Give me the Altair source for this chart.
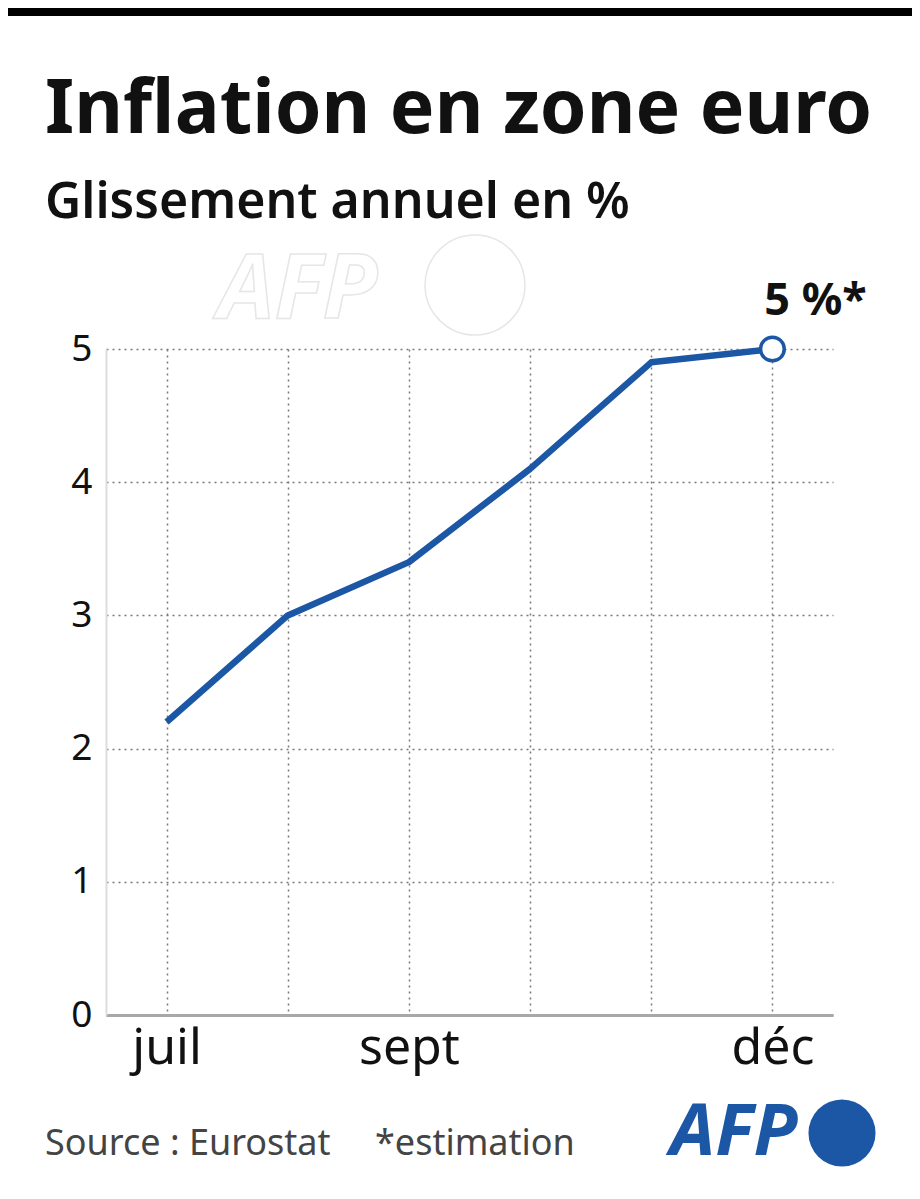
import altair as alt
import pandas as pd

months = ["juil", "août", "sept", "oct", "nov", "déc"]
values = [2.2, 3.0, 3.4, 4.1, 4.9, 5.0]
shown_labels = ["juil", "sept", "déc"]
y_ticks = [0, 1, 2, 3, 4, 5]
end_label = "5 %*"
title_text = "Inflation en zone euro"
subtitle_text = "Glissement annuel en %"
source_text = "Source : Eurostat"
note_text = "*estimation"
logo_text = "AFP"

W, H = 727, 666
BLUE = "#1c57a6"
FONT = "Noto Sans"

df = pd.DataFrame({"mois": months, "val": values})
last = df.iloc[[-1]].assign(lab=end_label)

label_list = ",".join("'%s'" % s for s in shown_labels)

x_enc = alt.X(
    "mois:N", sort=months,
    scale=alt.Scale(type="point", padding=0.5),
    axis=alt.Axis(
        title=None, ticks=False, labelAngle=0,
        labelExpr="indexof([%s], datum.label) >= 0 ? datum.label : ''" % label_list,
        domainColor="#a8a8a8", domainWidth=3,
        grid=True, gridDash=[2, 4], gridColor="#7a7a7a", gridWidth=1.5,
        labelFont=FONT, labelFontSize=50, labelColor="#111",
        labelPadding=8,
    ),
)
y_enc = alt.Y(
    "val:Q",
    scale=alt.Scale(domain=[0, 5], nice=False),
    axis=alt.Axis(
        title=None, ticks=False, values=y_ticks, format="d",
        domainColor="#dddddd", domainWidth=2,
        grid=True, gridDash=[2, 4], gridColor="#7a7a7a", gridWidth=1.5,
        labelFont=FONT, labelFontSize=37, labelColor="#111",
        labelPadding=14,
    ),
)

base = alt.Chart(df)
line = base.mark_line(color=BLUE, strokeWidth=6.5, strokeJoin="round").encode(x=x_enc, y=y_enc)

end_pt = alt.Chart(last).mark_point(
    shape="circle", size=560, filled=True, fill="white", stroke=BLUE, strokeWidth=3.5, opacity=1
).encode(x=alt.X("mois:N", sort=months), y="val:Q")

end_txt = alt.Chart(last).mark_text(
    font=FONT, fontSize=45, fontWeight="bold", color="#111",
    align="center", baseline="alphabetic", dx=43, dy=-34
).encode(x=alt.X("mois:N", sort=months), y="val:Q", text="lab:N")


def txt(t, x, y, size, weight="normal", color="#111", style="normal", align="left"):
    return alt.Chart(pd.DataFrame({"t": [t]})).mark_text(
        font=FONT, fontSize=size, fontWeight=weight, color=color, fontStyle=style,
        align=align, baseline="alphabetic"
    ).encode(x=alt.value(x), y=alt.value(y), text="t:N")


bar = alt.Chart(pd.DataFrame({"t": [1]})).mark_rule(color="black", strokeWidth=8).encode(
    x=alt.value(-98), x2=alt.value(W + 79), y=alt.value(-337)
)

title = txt(title_text, -61, -216, 75, weight="bold")
subtitle = txt(subtitle_text, -61, -131, 50, weight=600)

# faint watermark
wm_text = alt.Chart(pd.DataFrame({"t": [logo_text]})).mark_text(
    font=FONT, fontSize=90, fontWeight="bold", fontStyle="italic",
    fill="white", stroke="#e6e6e6", strokeWidth=1.5, align="left", baseline="alphabetic"
).encode(x=alt.value(112), y=alt.value(-31), text="t:N")
wm_circle = alt.Chart(pd.DataFrame({"t": [1]})).mark_point(
    shape="circle", size=10000, filled=False, stroke="#e6e6e6", strokeWidth=1.5, opacity=1
).encode(x=alt.value(369), y=alt.value(-64))

source = txt(source_text, -61, 806, 36, color="#444")
note = txt(note_text, 269, 806, 36, color="#444")
logo = txt(logo_text, 564, 806, 72, weight="bold", color=BLUE, style="italic")
logo_circle = alt.Chart(pd.DataFrame({"t": [1]})).mark_point(
    shape="circle", size=4500, filled=True, color=BLUE, opacity=1
).encode(x=alt.value(736), y=alt.value(784))

chart = alt.layer(
    bar, title, subtitle, wm_text, wm_circle,
    line, end_pt, end_txt,
    source, note, logo, logo_circle,
).properties(
    width=W, height=H,
    padding={"left": 98, "top": 341, "right": 79, "bottom": 176},
    autosize=alt.AutoSizeParams(type="none"),
    background="white",
).configure_view(stroke=None)

chart.save("out.html", embed_options={"renderer": "svg", "actions": False})
